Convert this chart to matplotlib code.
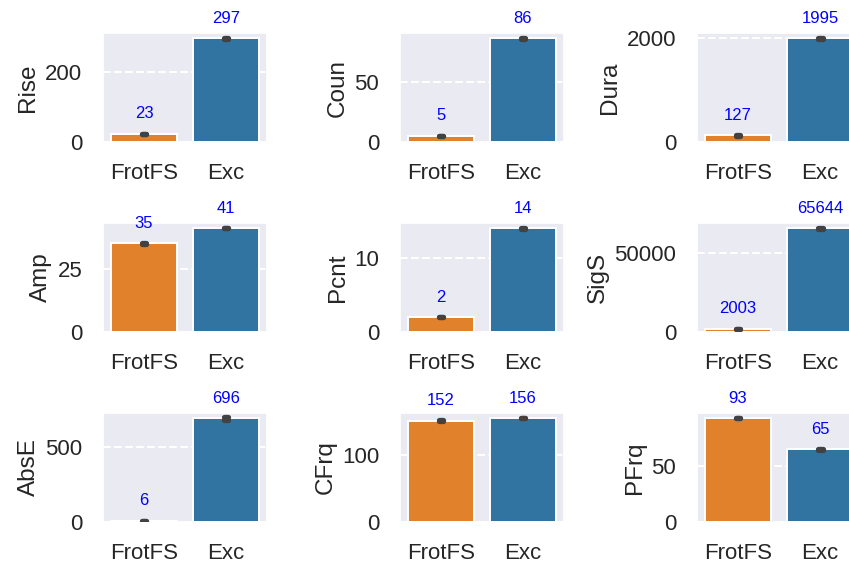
import matplotlib
matplotlib.use("Agg")
import matplotlib.pyplot as plt
import seaborn as sns
from matplotlib.ticker import MaxNLocator

groups = ["FrotFS", "Exc"]
colors = ["#e1812c", "#3274a1"]

features = ["Rise", "Coun", "Dura", "Amp", "Pcnt", "SigS", "AbsE", "CFrq", "PFrq"]
means = [
    [23, 297],
    [5, 86],
    [127, 1995],
    [35, 41],
    [2, 14],
    [2003, 65644],
    [6, 696],
    [152, 156],
    [93, 65],
]
# half width of the (tiny) error bars
errs = [
    [1, 1],
    [0.2, 0.3],
    [5, 8],
    [0.1, 0.1],
    [0.03, 0.05],
    [100, 300],
    [1, 10],
    [0.5, 0.5],
    [0.3, 0.3],
]

sns.set_theme(style="darkgrid", context="notebook", font_scale=1.4,
              rc={"grid.linestyle": "--", "grid.linewidth": 1.5})
plt.rcParams["font.family"] = ["Liberation Sans", "DejaVu Sans"]

fig = plt.figure(figsize=(8.49, 5.64), dpi=100)

lefts = [0.1213, 0.4711, 0.8210]
bottoms = [0.7482, 0.4113, 0.0745]
w, h = 0.1932, 0.1933
cap = 0.03

for i, name in enumerate(features):
    r, c = divmod(i, 3)
    ax = fig.add_axes([lefts[c], bottoms[r], w, h])
    vals = means[i]
    ax.bar(range(2), vals, width=0.8, color=colors, edgecolor="white", linewidth=1.4)
    for x, (v, e) in enumerate(zip(vals, errs[i])):
        errkw = dict(color=".26", lw=3.8, solid_capstyle="round", zorder=3)
        ax.plot([x, x], [v - e, v + e], **errkw)
        ax.plot([x - cap, x + cap], [v - e, v - e], **errkw)
        ax.plot([x - cap, x + cap], [v + e, v + e], **errkw)
        ax.annotate(str(v), (x, v), xytext=(0, 14.5), textcoords="offset points",
                    ha="center", va="center", color="blue", fontsize=12)
    ax.set_xlim(-0.5, 1.5)
    ax.set_ylim(0, max(vals) * 1.05)
    ax.set_xticks(range(2))
    ax.set_xticklabels(groups)
    ax.yaxis.set_major_locator(MaxNLocator(nbins=2, steps=[1, 2, 2.5, 5, 10]))
    ax.tick_params(labelsize=16, pad=9)
    ax.grid(False, axis="x")
    ax.set_ylabel(name, fontsize=17.5)

fig.savefig("out.png", dpi=100)
